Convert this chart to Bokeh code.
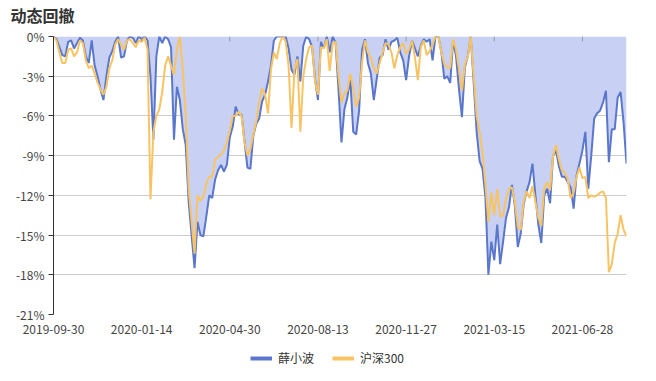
from bokeh.plotting import figure
from bokeh.layouts import column
from bokeh.models import Range1d, FixedTicker, Legend, LegendItem, ColumnDataSource
from bokeh.embed import file_html
from bokeh.resources import INLINE

title_text = "动态回撤"
series_names = ["薛小波", "沪深300"]
tick_positions = [0, 30, 60, 90, 120, 150, 180]
tick_labels = ["2019-09-30", "2020-01-14", "2020-04-30", "2020-08-13",
               "2020-11-27", "2021-03-15", "2021-06-28"]
y_ticks = [0, -3, -6, -9, -12, -15, -18, -21]

xue = [0, -0.2, -0.8, -1.4, -1.5, -0.4, -0.3, -0.9, -0.5, -0.1,
       -0.3, -1.5, -2.0, -0.3, -2.2, -3.0, -4.0, -4.8, -3.0, -1.6,
       -1.1, -0.4, 0, -1.6, -1.5, -0.3, 0, -0.1, -0.5, 0,
       -0.2, 0, -0.3, -3.0, -7.8, -1.5, 0, -0.5, 0, -0.2,
       -0.8, -7.8, -3.8, -4.8, -7.0, -8.2, -12.5, -15.0, -17.5, -14.0,
       -15.0, -15.1, -13.6, -12.0, -12.2, -10.8, -10.1, -9.7, -10.2, -9.7,
       -7.6, -6.8, -5.3, -5.9, -5.9, -7.9, -9.9, -10.0, -7.5, -6.6,
       -6.2, -4.9, -4.4, -3.4, -2.2, -0.3, 0, 0, 0, 0,
       -0.9, -2.5, -2.9, -1.5, -3.4, -0.7, 0, -0.2, -0.8, -3.2,
       -4.8, -0.4, -0.9, 0, -1.2, 0, -0.5, -4.0, -8.0, -5.5,
       -4.6, -3.2, -7.2, -7.4, -5.6, -1.0, -0.2, -2.0, -2.8, -4.8,
       -3.2, -1.6, -1.4, -0.2, -1.0, -0.4, -0.3, -0.1, -1.2, -1.8,
       -3.3, -1.5, -0.3, -0.9, -1.5, -0.7, -0.2, -0.4, -0.2, -1.8,
       0, 0, -1.2, -3.2, -3.0, -3.5, -0.3, -1.5, -4.0, -6.1,
       -2.3, -1.5, 0, -3.5, -7.2, -9.4, -10.0, -12.2, -18.0, -15.5,
       -16.9, -14.2, -17.2, -15.5, -13.7, -12.9, -11.2, -12.8, -15.9, -14.9,
       -12.7, -11.7, -11.0, -9.6, -12.0, -14.2, -15.6, -12.0, -11.5, -12.6,
       -9.0, -8.6, -9.8, -10.6, -10.6, -11.0, -11.4, -13.0, -10.5, -9.6,
       -8.6, -7.2, -11.5, -9.0, -6.2, -5.8, -5.6, -5.0, -4.1, -9.5,
       -7.0, -7.0, -4.6, -4.2, -6.5, -9.6]

hs300 = [0, -0.3, -1.2, -2.0, -2.0, -1.0, -0.9, -1.5, -1.2, -0.3,
         -0.5, -1.8, -2.4, -2.2, -2.8, -3.5, -4.0, -4.4, -3.8, -2.4,
         -1.8, -0.6, -0.2, -0.6, -1.0, -0.3, -0.2, -0.5, -0.8, -0.3,
         -0.4, -0.1, -1.0, -12.3, -7.2, -6.0, -5.5, -4.2, -2.2, -1.5,
         -2.2, -2.9, -1.0, 0, -2.5, -6.0, -11.5, -14.0, -16.4, -12.0,
         -12.4, -12.1, -11.1, -10.6, -10.6, -9.3, -9.1, -8.9, -8.6, -8.0,
         -7.1, -6.0, -6.0, -5.7, -6.0, -8.0, -9.0, -8.5, -7.4, -6.4,
         -5.0, -3.9, -4.4, -5.8, -2.5, -1.2, -1.7, -0.5, 0, -0.4,
         -2.2, -6.9, -2.5, -1.7, -7.2, -3.0, -1.7, -0.8, -0.7, -3.4,
         -4.4, -0.8, -0.9, -0.2, -2.6, -0.5, -0.4, -3.0, -5.0, -4.3,
         -4.1, -2.8, -3.9, -5.3, -4.6, -2.0, -0.3, -1.2, -1.6, -2.4,
         -2.8, -2.0, -1.2, -0.5, -0.6, -1.2, -2.4, -1.4, -0.8, -0.5,
         -1.3, -1.0, -0.3, -1.6, -3.3, -0.8, -0.3, -1.4, -1.1, -0.6,
         0, 0, -1.2, -2.1, -2.3, -2.4, -0.2, -1.0, -2.5, -4.1,
         -2.1, -1.5, 0, -3.0, -6.0, -7.2, -8.8, -11.2, -14.0, -11.8,
         -13.5, -11.5, -13.6, -13.5, -12.3, -11.5, -11.4, -12.5, -14.4, -14.6,
         -12.5, -11.7, -12.2, -11.3, -12.5, -13.7, -14.3, -11.5, -11.0, -11.6,
         -9.0, -8.2, -9.3, -10.1, -10.3, -10.8, -12.2, -11.8, -10.6, -9.9,
         -10.7, -10.6, -12.2, -12.0, -12.1, -12.0, -11.8, -11.7, -12.2, -17.8,
         -17.2, -15.6, -14.9, -13.5, -14.6, -15.1]

BLUE = "#5b77cc"
ORANGE = "#f8c463"
FILL = "#c8d1f3"
FONT = "Noto Sans CJK SC"


def strip(h):
    f = figure(width=640, height=h, output_backend="svg", toolbar_location=None,
               x_range=Range1d(0, 1), y_range=Range1d(0, 1),
               x_axis_location=None, y_axis_location=None,
               min_border_left=0, min_border_right=0, min_border_top=0,
               min_border_bottom=0)
    f.grid.visible = False
    f.outline_line_color = None
    return f


# title strip (title drawn by a Bokeh Title, not clipped by the frame)
tp = strip(26)
tp.title.text = title_text
tp.title.text_font = FONT
tp.title.text_font_size = "16px"
tp.title.text_font_style = "bold"
tp.title.text_color = "#333333"
tp.title.align = "left"
tp.title.offset = -43
tp.title.standoff = 0

idx = list(range(len(xue)))
src = ColumnDataSource(dict(x=idx, xue=xue, hs=hs300, zero=[0] * len(idx)))

p = figure(width=640, height=310, output_backend="svg", toolbar_location=None,
           x_range=Range1d(0, len(idx) - 1), y_range=Range1d(-21, 0),
           min_border_left=53, min_border_right=14, min_border_top=10,
           min_border_bottom=20)
p.outline_line_color = None
p.background_fill_color = "white"
p.border_fill_color = "white"

p.varea(x="x", y1="zero", y2="xue", source=src, fill_color=FILL, fill_alpha=1.0)
p.line(x="x", y="xue", source=src, line_color=BLUE, line_width=2)
p.line(x="x", y="hs", source=src, line_color=ORANGE, line_width=2)

# small category ticks hanging from the zero line
p.segment(x0=tick_positions, y0=[0] * len(tick_positions),
          x1=tick_positions, y1=[-0.37] * len(tick_positions),
          line_color="#999999", line_width=1)

# y axis
p.yaxis.ticker = FixedTicker(ticks=y_ticks)
p.yaxis.major_label_overrides = {t: f"{t}%" for t in y_ticks}
p.yaxis.axis_line_color = "#333333"
p.yaxis.major_tick_line_color = "#333333"
p.yaxis.major_tick_out = 5
p.yaxis.major_tick_in = 0
p.yaxis.minor_tick_line_color = None
p.yaxis.major_label_text_font = FONT
p.yaxis.major_label_text_font_size = "12px"
p.yaxis.major_label_text_color = "#444444"
p.yaxis.major_label_standoff = 4

# x axis
p.xaxis.ticker = FixedTicker(ticks=tick_positions)
p.xaxis.major_label_overrides = {t: l for t, l in zip(tick_positions, tick_labels)}
p.xaxis.axis_line_color = None
p.xaxis.major_tick_line_color = None
p.xaxis.minor_tick_line_color = None
p.xaxis.major_label_text_font = FONT
p.xaxis.major_label_text_font_size = "12px"
p.xaxis.major_label_text_color = "#444444"
p.xaxis.major_label_standoff = 4

p.xgrid.grid_line_color = None
p.ygrid.ticker = FixedTicker(ticks=y_ticks)
p.ygrid.grid_line_color = "#cccccc"
p.ygrid.grid_line_width = 1

# legend strip
lp = strip(32)
lg_b = lp.line(x=[-50, -40], y=[-50, -50], line_color=BLUE, line_width=4)
lg_o = lp.line(x=[-50, -40], y=[-50, -50], line_color=ORANGE, line_width=4)
legend = Legend(items=[LegendItem(label=series_names[0], renderers=[lg_b]),
                       LegendItem(label=series_names[1], renderers=[lg_o])],
                orientation="horizontal", location=(197, 2),
                label_text_font=FONT, label_text_font_size="12px",
                label_text_color="#333333", glyph_width=22, glyph_height=14,
                label_height=14, spacing=18, padding=0, margin=0,
                border_line_color=None, background_fill_alpha=0, label_standoff=6)
lp.add_layout(legend, "center")

open("out.html", "w").write(file_html(column(tp, p, lp), INLINE))
